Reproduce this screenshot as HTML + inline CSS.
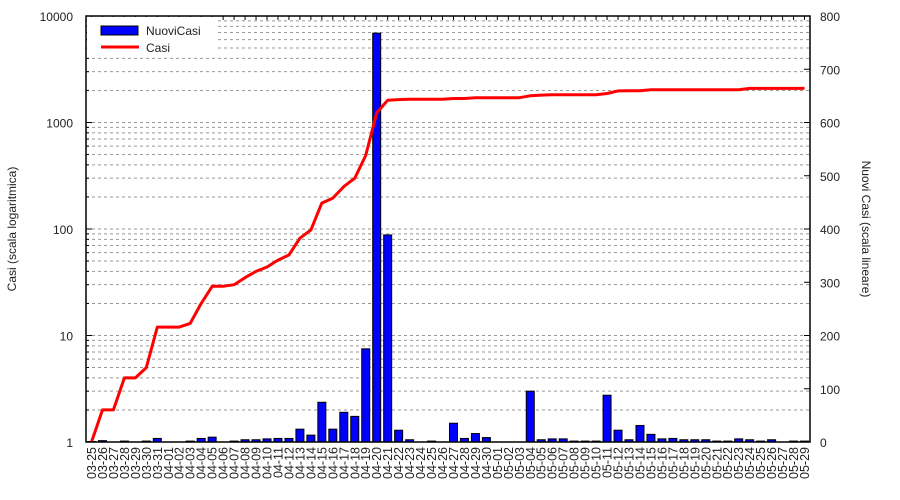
<!DOCTYPE html>
<html><head><meta charset="utf-8"><style>
body{margin:0;background:#fff;}
svg{display:block;font-family:"Liberation Sans",sans-serif;}
</style></head><body>
<svg id="chart" width="900" height="500" viewBox="0 0 900 500" xmlns="http://www.w3.org/2000/svg">
<g id="grid"></g>
<g id="bars"></g>
<g id="line"></g>
<g id="axes"></g>
<g id="legend">
<rect x="87" y="17" width="131" height="36" fill="#fff"/>
<g><rect x="101" y="26" width="37" height="9" fill="#0000ff" stroke="#000" stroke-width="1"/><text x="146" y="35" font-size="12" fill="#222">NuoviCasi</text></g>
<g><line x1="101" y1="47" x2="139" y2="47" stroke="#ff0000" stroke-width="3"/><text x="146" y="52" font-size="12" fill="#222">Casi</text></g>
</g>
<text transform="translate(16,229) rotate(-90)" text-anchor="middle" font-size="12" fill="#222">Casi (scala logaritmica)</text>
<text transform="translate(862,229) rotate(90)" text-anchor="middle" font-size="12" fill="#222">Nuovi Casi (scala lineare)</text>
</svg>
<script>
const categories=["03-25","03-26","03-27","03-28","03-29","03-30","03-31","04-01","04-02","04-03","04-04","04-05","04-06","04-07","04-08","04-09","04-10","04-11","04-12","04-13","04-14","04-15","04-16","04-17","04-18","04-19","04-20","04-21","04-22","04-23","04-24","04-25","04-26","04-27","04-28","04-29","04-30","05-01","05-02","05-03","05-04","05-05","05-06","05-07","05-08","05-09","05-10","05-11","05-12","05-13","05-14","05-15","05-16","05-17","05-18","05-19","05-20","05-21","05-22","05-23","05-24","05-25","05-26","05-27","05-28","05-29"];
const casi=[1,2,2,4,4,5,12,12,12,13,20,29,29,30,35,40,44,51,57,82,98,175,195,250,300,490,1230,1620,1640,1650,1650,1650,1650,1680,1680,1710,1710,1710,1710,1710,1780,1810,1820,1820,1820,1820,1820,1870,1980,1990,1990,2030,2030,2030,2030,2030,2030,2030,2030,2030,2090,2090,2090,2090,2090,2090];
const nuovi=[1.01,1.03,0,1.02,0,1.02,1.08,0,0,1.02,1.08,1.11,0,1.02,1.05,1.05,1.07,1.08,1.08,1.32,1.16,2.36,1.32,1.9,1.74,7.5,6900,88,1.29,1.05,0,1.02,0,1.5,1.08,1.2,1.1,0,0,0,3.0,1.05,1.07,1.07,1.02,1.02,1.02,2.75,1.29,1.05,1.43,1.18,1.07,1.08,1.05,1.05,1.05,1.02,1.02,1.07,1.05,1.02,1.05,0,1.02,1.02];
const leftTicks=[1,10,100,1000,10000];
const rightTicks=[0,100,200,300,400,500,600,700,800];
const L=86,R=810,T=16,B=442,NS="http://www.w3.org/2000/svg";
const step=(R-L)/categories.length;
function xPos(i){return L+(i+0.5)*step;}
function yLog(v){return B-(Math.log10(Math.max(v,1))/4)*(B-T);}
function yLin(v){return B-v/800*(B-T);}
function mk(tag,attrs,parent){const e=document.createElementNS(NS,tag);for(const k in attrs)e.setAttribute(k,attrs[k]);parent.appendChild(e);return e;}
const grid=document.getElementById('grid'),bars=document.getElementById('bars'),line=document.getElementById('line'),axes=document.getElementById('axes');
for(let d=1;d<10000;d*=10){for(let m=1;m<=9;m++){const v=d*m;if(v===1)continue;const y=yLog(v);
 const g=mk('line',{x1:L,x2:R,y1:y,y2:y,stroke:'#999','stroke-dasharray':'3,3','stroke-width':1},grid);
 
 
 const t=mk('line',{x1:L,x2:L+(m===1?6:3),y1:y,y2:y,stroke:'#000'},axes);
 
 }}
nuovi.forEach((v,i)=>{if(v<=1)return;const y=yLog(v);
 const b=mk('rect',{x:xPos(i)-4,y:y,width:8,height:B-y,fill:'#0000ff',stroke:'#000','stroke-width':1},bars);
 
 });
const pts=casi.map((v,i)=>xPos(i).toFixed(1)+','+yLog(v).toFixed(1)).join(' ');
const pl=mk('polyline',{points:pts,fill:'none',stroke:'#ff0000','stroke-width':3,'stroke-linejoin':'round'},line);


const fr=mk('rect',{x:L,y:T,width:R-L,height:B-T,fill:'none',stroke:'#000','stroke-width':1.5},axes);


leftTicks.forEach(v=>{const t=mk('text',{x:73,y:yLog(v)+5,'text-anchor':'end','font-size':12,fill:'#222'},axes);t.textContent=v;
 
 });
rightTicks.forEach(v=>{const y=yLin(v);
 const tk=mk('line',{x1:R-6,x2:R,y1:y,y2:y,stroke:'#000'},axes);
 
 
 const t=mk('text',{x:820,y:y+5,'font-size':12,fill:'#222'},axes);t.textContent=v;
 
 });
categories.forEach((c,i)=>{const x=xPos(i);
 const tk=mk('line',{x1:x,x2:x,y1:T,y2:T+4,stroke:'#000'},axes);
 
 
 const t=mk('text',{transform:'translate('+(x+4.5)+',447) rotate(-90)','text-anchor':'end','font-size':12.5,fill:'#222'},axes);t.textContent=c;
 
 });
</script>
</body></html>
